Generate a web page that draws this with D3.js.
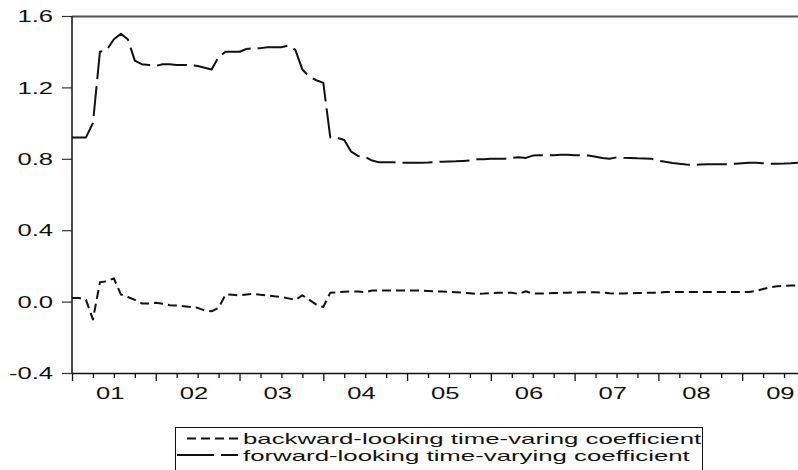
<!DOCTYPE html>
<html>
<head>
<meta charset="utf-8">
<script src="https://cdn.jsdelivr.net/npm/d3@7"></script>
<style>
  html, body { margin: 0; padding: 0; background: #fff; }
  svg { display: block; font-family: "Liberation Sans", Arial, Helvetica, sans-serif; }
</style>
</head>
<body>
<svg id="chart" width="798" height="470"></svg>
<script>
// ---- data (monthly, 2001M01 .. 2009M09) ----
const startYear = 2001;
const categories = d3.range(105).map(i => (startYear + Math.floor(i / 12)) + "M" + String(i % 12 + 1).padStart(2, "0"));

const forwardLooking = [
  0.92, 0.92, 0.92, 1.00, 1.40, 1.41, 1.47, 1.50, 1.47, 1.35, 1.33, 1.325,
  1.32, 1.33, 1.33, 1.325, 1.325, 1.325, 1.32, 1.31, 1.30, 1.37, 1.40, 1.40,
  1.40, 1.415, 1.42, 1.42, 1.425, 1.425, 1.425, 1.435, 1.41, 1.30, 1.26, 1.24,
  1.225, 0.92, 0.918, 0.905, 0.84, 0.815, 0.81, 0.79, 0.78, 0.78, 0.78, 0.778,
  0.778, 0.778, 0.778, 0.779, 0.782, 0.784, 0.785, 0.786, 0.788, 0.79, 0.797, 0.798,
  0.80, 0.80, 0.80, 0.806, 0.808, 0.805, 0.818, 0.82, 0.82, 0.82, 0.822, 0.822,
  0.82, 0.82, 0.818, 0.812, 0.805, 0.80, 0.808, 0.806, 0.805, 0.803, 0.802, 0.80,
  0.79, 0.783, 0.777, 0.772, 0.768, 0.765, 0.768, 0.77, 0.77, 0.77, 0.77, 0.772,
  0.775, 0.778, 0.778, 0.775, 0.772, 0.772, 0.773, 0.775, 0.778
];

const backwardLooking = [
  0.02, 0.02, 0.01, -0.10, 0.108, 0.114, 0.13, 0.04, 0.026, 0.01, -0.01, -0.01,
  -0.007, -0.012, -0.02, -0.022, -0.026, -0.03, -0.035, -0.05, -0.054, -0.035, 0.04, 0.038,
  0.035, 0.04, 0.043, 0.038, 0.035, 0.03, 0.026, 0.018, 0.01, 0.035, 0.01, -0.017,
  -0.03, 0.05, 0.052, 0.055, 0.058, 0.056, 0.052, 0.062, 0.062, 0.062, 0.062, 0.062,
  0.062, 0.062, 0.062, 0.06, 0.058, 0.056, 0.054, 0.052, 0.05, 0.047, 0.043, 0.045,
  0.048, 0.049, 0.049, 0.049, 0.043, 0.058, 0.045, 0.045, 0.046, 0.048, 0.049, 0.05,
  0.051, 0.052, 0.052, 0.052, 0.05, 0.047, 0.045, 0.046, 0.047, 0.048, 0.049, 0.049,
  0.05, 0.054, 0.054, 0.054, 0.054, 0.054, 0.054, 0.054, 0.054, 0.054, 0.054, 0.054,
  0.054, 0.054, 0.06, 0.071, 0.08, 0.086, 0.088, 0.09, 0.09
];

const yTickValues = [-0.4, 0.0, 0.4, 0.8, 1.2, 1.6];
const yTickLabels = ["-0.4", "0.0", "0.4", "0.8", "1.2", "1.6"];
const xTickLabels = ["01", "02", "03", "04", "05", "06", "07", "08", "09"];
const seriesNames = ["backward-looking time-varing coefficient", "forward-looking time-varying coefficient"];

// ---- layout ----
const svg = d3.select("#chart");
const L = 72, R = 798, T = 16, B = 373;
const STRETCH = 1.6;

const x = d3.scaleLinear().domain([0, categories.length - 1]).range([L, R]);
const y = d3.scaleLinear().domain([-0.4, 1.6]).range([B, T]);

// top border
svg.append("line").attr("x1", L).attr("x2", R).attr("y1", T + 0.5).attr("y2", T + 0.5)
  .attr("stroke", "#555").attr("stroke-width", 2);

// y axis
const yAxis = svg.append("g").attr("transform", `translate(${L},0)`)
  .call(d3.axisLeft(y).tickValues(yTickValues).tickSize(10)
    .tickFormat((d, i) => yTickLabels[i]));
yAxis.select(".domain").remove();
yAxis.selectAll(".tick line").attr("stroke", "#333").attr("stroke-width", 1.2);
yAxis.selectAll(".tick text")
  .attr("x", 0).attr("dy", "0.36em")
  .attr("transform", `translate(-19,0) scale(${STRETCH},1)`)
  .attr("font-size", 16).attr("fill", "#111")
  .attr("font-family", "Liberation Sans, Arial, sans-serif");
svg.append("line").attr("x1", L).attr("x2", L).attr("y1", T).attr("y2", B + 0.5)
  .attr("stroke", "#111").attr("stroke-width", 1.5);

// x axis ticks
const yearStarts = d3.range(0, categories.length, 12);
const quarterTicks = d3.range(0, categories.length, 3).filter(d => d % 12 !== 0);
const xMajor = svg.append("g").attr("transform", `translate(0,${B})`)
  .call(d3.axisBottom(x).tickValues(yearStarts).tickSize(8).tickFormat(""));
const xMinor = svg.append("g").attr("transform", `translate(0,${B})`)
  .call(d3.axisBottom(x).tickValues(quarterTicks).tickSize(5).tickFormat(""));
[xMajor, xMinor].forEach(g => {
  g.select(".domain").remove();
  g.selectAll(".tick line").attr("stroke", "#111").attr("stroke-width", 1.3);
});
const xLab = svg.append("g").attr("transform", `translate(0,${B})`)
  .call(d3.axisBottom(x).tickValues(xTickLabels.map((d, i) => i * 12 + 5.4)).tickSize(0)
    .tickFormat((d, i) => xTickLabels[i]));
xLab.select(".domain").remove();
xLab.selectAll(".tick text")
  .attr("y", 0).attr("dy", 0)
  .attr("transform", `translate(0,26) scale(${STRETCH},1)`)
  .attr("font-size", 16).attr("fill", "#111")
  .attr("font-family", "Liberation Sans, Arial, sans-serif");
svg.append("line").attr("x1", L).attr("x2", R).attr("y1", B + 0.5).attr("y2", B + 0.5)
  .attr("stroke", "#111").attr("stroke-width", 1.5);

// lines
const line = d3.line().x((d, i) => x(i)).y(d => y(d));
svg.append("path").datum(backwardLooking).attr("d", line)
  .attr("fill", "none").attr("stroke", "#111").attr("stroke-width", 2)
  .attr("stroke-dasharray", "9,5").attr("stroke-linejoin", "round");
svg.append("path").datum(forwardLooking).attr("d", line)
  .attr("fill", "none").attr("stroke", "#111").attr("stroke-width", 2)
  .attr("stroke-dasharray", "30,7").attr("stroke-linejoin", "round");

// legend
const LEG_STRETCH = 1.72;
const lg = svg.append("g");
lg.append("rect").attr("x", 175.5).attr("y", 427.5).attr("width", 527).attr("height", 60)
  .attr("fill", "#fff").attr("stroke", "#111").attr("stroke-width", 1);
const legendRows = [
  { name: seriesNames[0], dash: "9,5", x1: 187, ly: 438.5, ty: 444 },
  { name: seriesNames[1], dash: "37,7", x1: 177, ly: 455, ty: 461 }
];
legendRows.forEach(r => {
  lg.append("line").attr("x1", r.x1).attr("x2", 238).attr("y1", r.ly).attr("y2", r.ly)
    .attr("stroke", "#111").attr("stroke-width", 2).attr("stroke-dasharray", r.dash);
  lg.append("text").attr("x", 0).attr("y", 0)
    .attr("transform", `translate(243,${r.ty}) scale(${LEG_STRETCH},1)`)
    .attr("font-size", 15).attr("fill", "#111")
    .text(r.name);
});
</script>
</body>
</html>
